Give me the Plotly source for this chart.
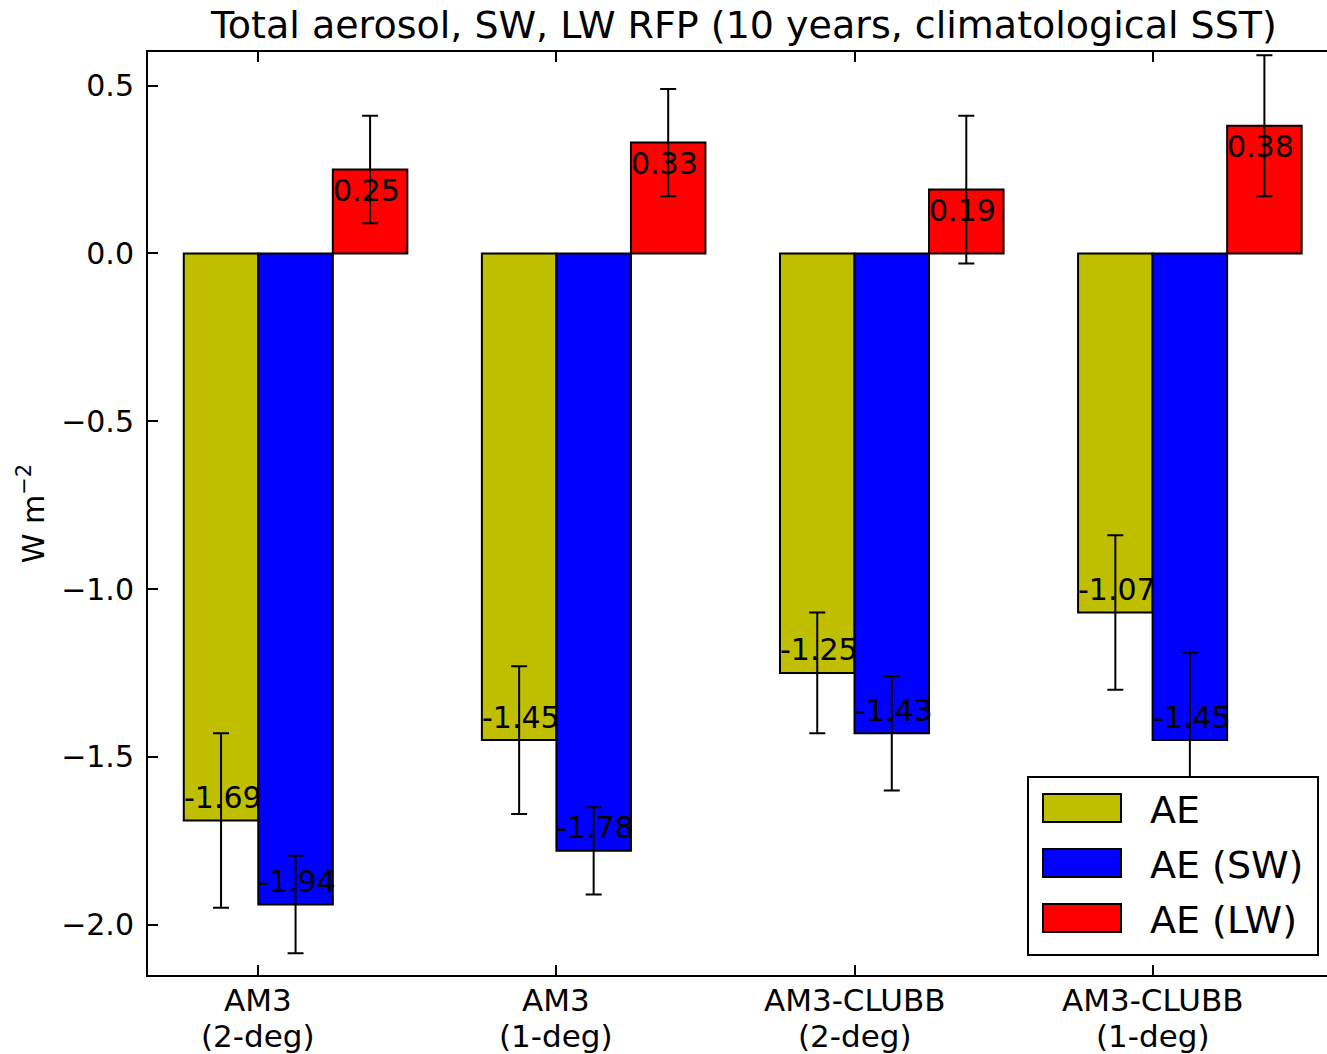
import plotly.graph_objects as go

categories = ["AM3<br>(2-deg)", "AM3<br>(1-deg)", "AM3-CLUBB<br>(2-deg)", "AM3-CLUBB<br>(1-deg)"]
series_names = ["AE", "AE (SW)", "AE (LW)"]
ae_values = [-1.69, -1.45, -1.25, -1.07]
sw_values = [-1.94, -1.78, -1.43, -1.45]
lw_values = [0.25, 0.33, 0.19, 0.38]
ae_err = [0.26, 0.22, 0.18, 0.23]
sw_err = [0.145, 0.13, 0.17, 0.26]
lw_err = [0.16, 0.16, 0.22, 0.21]
y_ticks = [0.5, 0.0, -0.5, -1.0, -1.5, -2.0]

colors = ["#bfbf00", "#0000ff", "#ff0000"]
bar_w = 0.25
FONT = "DejaVu Sans"

W, H = 1327, 1054
L, R, T, B = 148, 0, 52, 79

fig = go.Figure()
all_vals = [ae_values, sw_values, lw_values]
all_errs = [ae_err, sw_err, lw_err]
annotations = []
for k, (name, vals, errs, col) in enumerate(zip(series_names, all_vals, all_errs, colors)):
    xs = [i + k * bar_w + bar_w / 2 for i in range(len(vals))]
    fig.add_trace(go.Bar(
        x=xs, y=vals, width=bar_w, name=name,
        marker=dict(color=col, line=dict(color="black", width=2)),
        error_y=dict(type="data", array=errs, visible=True, color="black",
                     thickness=2, width=8),
        showlegend=False,
    ))
    for i, v in enumerate(vals):
        annotations.append(dict(
            x=i + k * bar_w, y=v, xref="x", yref="y", text=f"{v:.2f}",
            showarrow=False, xanchor="left", yanchor="middle",
            xshift=-2, yshift=(23 if v < 0 else -21),
            font=dict(family=FONT, size=30, color="black"),
        ))

# pixel -> paper helpers
pw = W - L - R
ph = H - T - B
def px(x):
    return (x - L) / pw
def py(y):
    return (H - B - y) / ph

# category labels (two lines each, tight spacing like the reference)
tick_x = [i + bar_w for i in range(len(categories))]
for tx, cat in zip(tick_x, categories):
    for line, ly in zip(cat.split("<br>"), [1000, 1036]):
        annotations.append(dict(x=tx, y=py(ly), xref="x", yref="paper", text=line,
                                showarrow=False, xanchor="center", yanchor="middle",
                                font=dict(family=FONT, size=31, color="black")))

# custom legend
shapes = [dict(type="rect", xref="paper", yref="paper",
               x0=px(1028), x1=px(1318), y0=py(955), y1=py(777),
               line=dict(color="black", width=2), fillcolor="white", layer="above")]
row_y = [808, 863, 918]
for name, col, ry in zip(series_names, colors, row_y):
    shapes.append(dict(type="rect", xref="paper", yref="paper",
                       x0=px(1043), x1=px(1121), y0=py(ry + 14), y1=py(ry - 14),
                       line=dict(color="black", width=2), fillcolor=col, layer="above"))
    annotations.append(dict(x=px(1148), y=py(ry + 2), xref="paper", yref="paper",
                            text=name, showarrow=False, xanchor="left", yanchor="middle",
                            font=dict(family=FONT, size=38, color="black")))

fig.update_layout(
    width=W, height=H, autosize=False,
    margin=dict(l=L, r=R, t=T, b=B, pad=0),
    paper_bgcolor="white", plot_bgcolor="white",
    barmode="overlay",
    font=dict(family=FONT, size=30, color="black"),
    title=dict(text="Total aerosol, SW, LW RFP (10 years, climatological SST)",
               x=744 / W, xanchor="center", y=1 - 25 / H, yanchor="middle",
               font=dict(family=FONT, size=38, color="black")),
    xaxis=dict(range=[-0.12, 3.835], tickmode="array", automargin=False,
               tickvals=tick_x, showticklabels=False,
               ticks="inside", ticklen=10, tickwidth=1.5, tickcolor="black",
               showline=True, linecolor="black", linewidth=2, mirror="ticks",
               showgrid=False, zeroline=False),
    yaxis=dict(range=[-2.15, 0.6], tickmode="array", tickvals=y_ticks, automargin=False,
               ticktext=[f"{t:.1f}".replace("-", "−") for t in y_ticks],
               ticks="inside", ticklen=10, tickwidth=1.5, tickcolor="black",
               showline=True, linecolor="black", linewidth=2, mirror=False,
               showgrid=False, zeroline=False, ticklabelstandoff=6,
               tickfont=dict(family=FONT, size=30, color="black"),
               title=dict(text="W m<sup>−2</sup>", standoff=8,
                          font=dict(family=FONT, size=30, color="black"))),
    shapes=shapes,
    annotations=annotations,
)

fig.write_html("out.html")
